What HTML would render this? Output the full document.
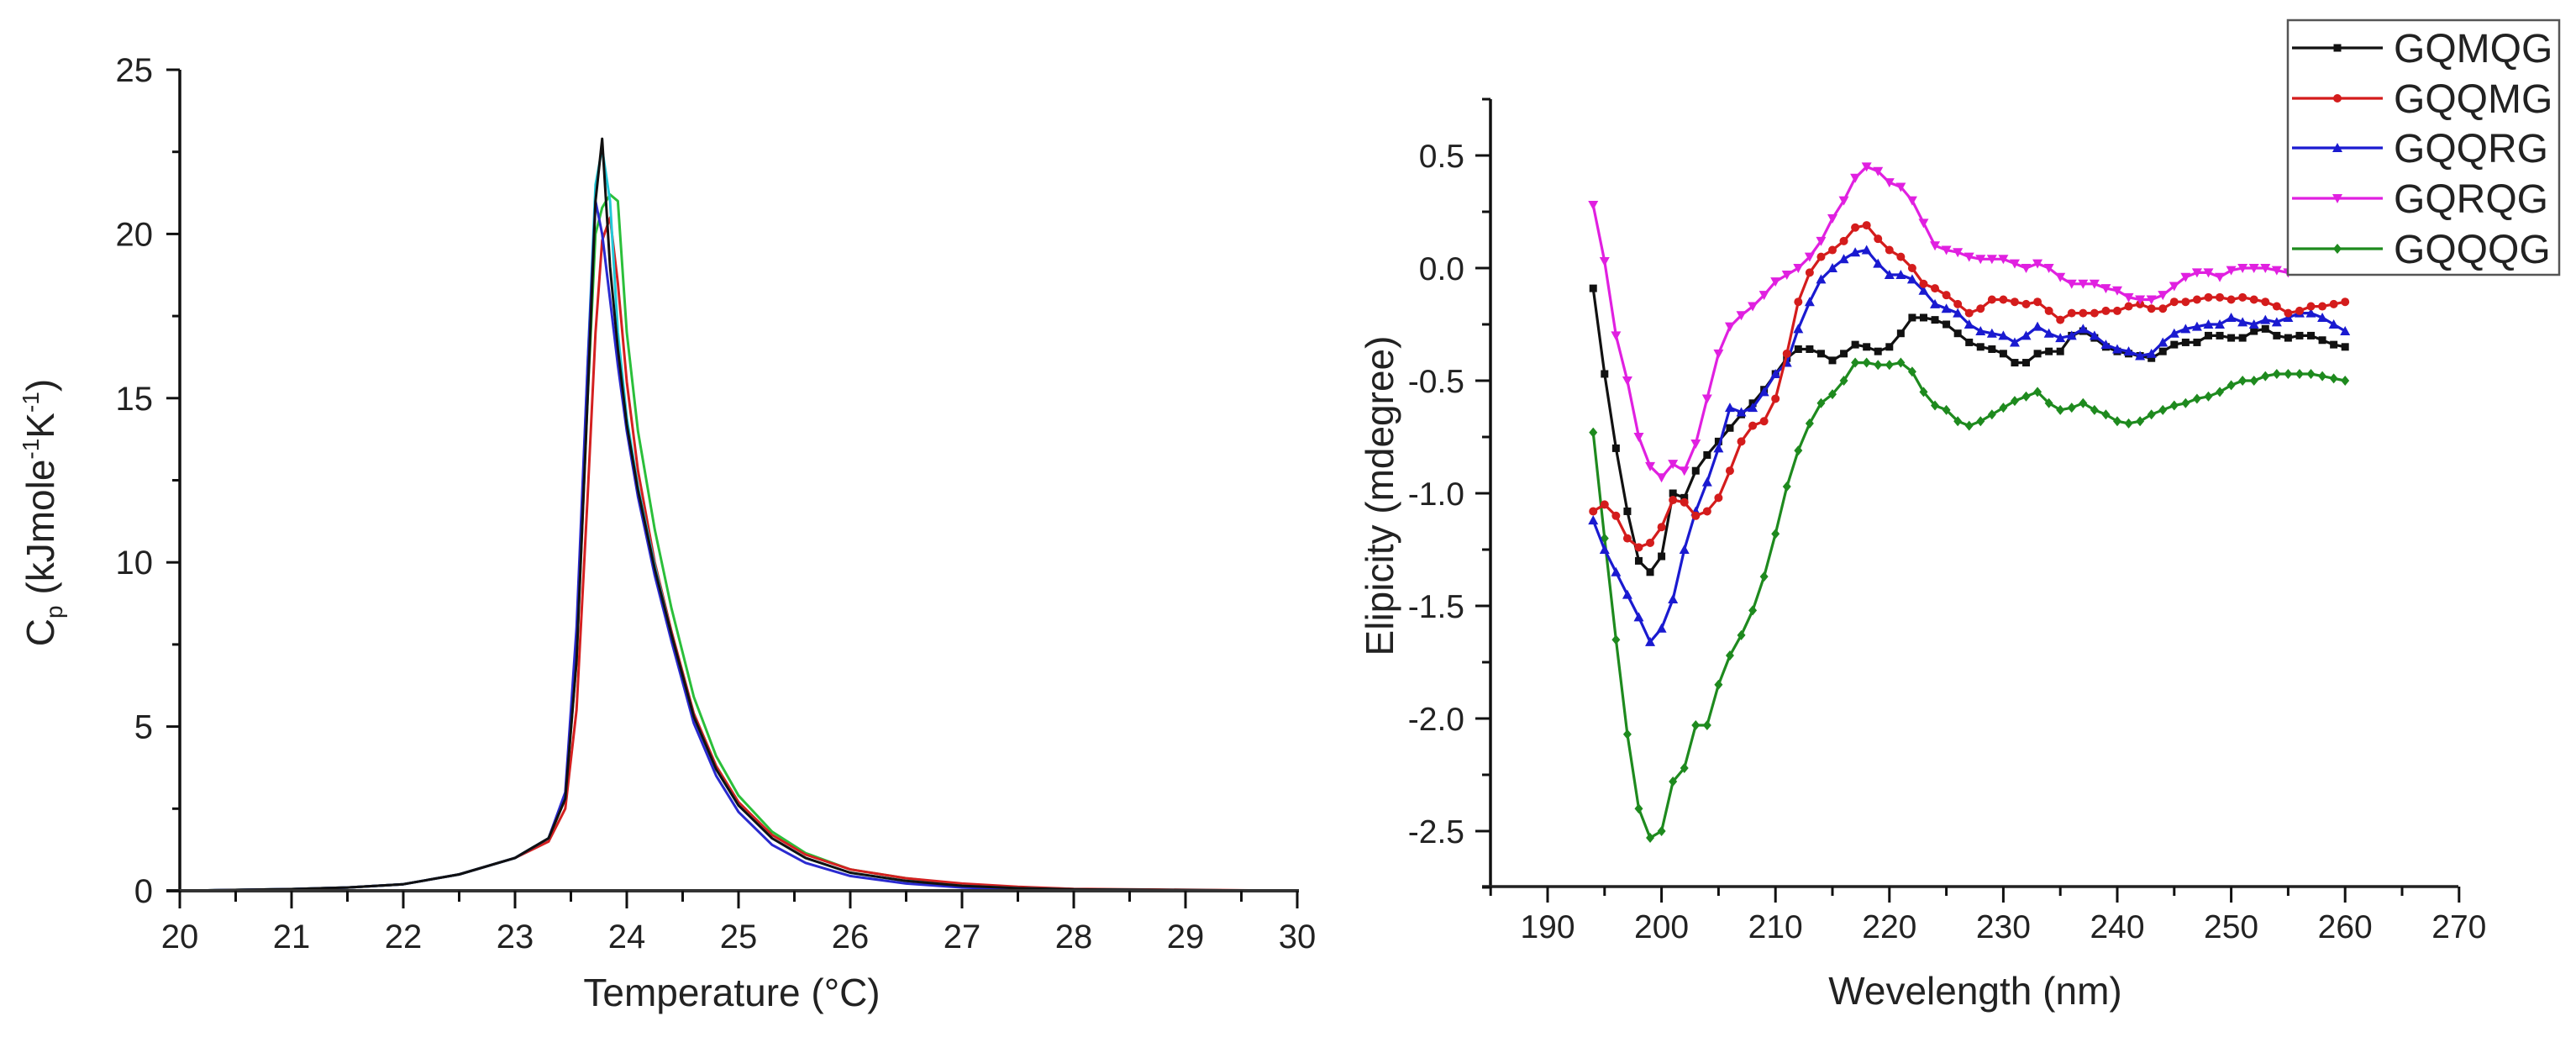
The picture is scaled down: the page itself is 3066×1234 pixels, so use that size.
<!DOCTYPE html>
<html><head><meta charset="utf-8"><style>
html,body{margin:0;padding:0;background:#fff;}
svg{display:block;}
text{font-family:"Liberation Sans",Arial,sans-serif;fill:#222;}
</style></head><body>
<svg id="fig" width="3066" height="1234" viewBox="0 0 3066 1234">
<g id="left"></g>
<g id="right"></g>
</svg>
<script>
// ---------- Left chart data (DSC thermograms) ----------
const temps = [20,21,21.5,22,22.5,23,23.3,23.45,23.55,23.65,23.72,23.78,23.85,23.92,24.0,24.1,24.25,24.4,24.6,24.8,25.0,25.3,25.6,26.0,26.5,27.0,27.5,28,29,30];
const cpBlack = [0,0.05,0.1,0.2,0.5,1.0,1.6,2.8,7,15,21,22.9,19,16.5,14.2,12.2,9.8,7.8,5.3,3.7,2.6,1.6,1.0,0.55,0.3,0.15,0.08,0.04,0.02,0];
const cpRed   = [0,0.05,0.1,0.2,0.5,1.0,1.5,2.5,5.5,12,17,19.8,20.5,18.5,15.5,12.8,10.0,7.9,5.4,3.8,2.7,1.7,1.1,0.65,0.38,0.22,0.12,0.06,0.03,0];
const cpBlue  = [0,0.05,0.1,0.2,0.5,1.0,1.6,3.0,8,16,21,20,18,16,14,12,9.6,7.6,5.1,3.5,2.4,1.4,0.85,0.45,0.22,0.1,0.05,0.03,0.01,0];
const cpGreen = [0,0.05,0.1,0.2,0.5,1.0,1.6,2.8,7,15,20,20.8,21.2,21,17,14,11,8.6,5.9,4.1,2.9,1.8,1.15,0.65,0.38,0.2,0.1,0.05,0.02,0];
const cpCyan  = [0,0.05,0.1,0.2,0.5,1.0,1.6,2.9,7.5,16,21.5,22.6,21,17,14.4,12.3,9.9,7.8,5.3,3.7,2.6,1.6,1.0,0.55,0.3,0.15,0.08,0.04,0.02,0];
const leftXTicks = ['20','21','22','23','24','25','26','27','28','29','30'];
const leftYTicks = ['0','5','10','15','20','25'];

// ---------- Right chart data (CD spectra) ----------
const wl = [194,195,196,197,198,199,200,201,202,203,204,205,206,207,208,209,210,211,212,213,214,215,216,217,218,219,220,221,222,223,224,225,226,227,228,229,230,231,232,233,234,235,236,237,238,239,240,241,242,243,244,245,246,247,248,249,250,251,252,253,254,255,256,257,258,259,260];
const sGQMQG = [-0.09,-0.47,-0.8,-1.08,-1.3,-1.35,-1.28,-1.0,-1.02,-0.9,-0.83,-0.77,-0.71,-0.65,-0.6,-0.54,-0.47,-0.4,-0.36,-0.36,-0.38,-0.41,-0.38,-0.34,-0.35,-0.37,-0.35,-0.29,-0.22,-0.22,-0.23,-0.25,-0.29,-0.33,-0.35,-0.36,-0.38,-0.42,-0.42,-0.38,-0.37,-0.37,-0.3,-0.28,-0.31,-0.35,-0.37,-0.38,-0.39,-0.4,-0.37,-0.34,-0.33,-0.33,-0.3,-0.3,-0.31,-0.31,-0.28,-0.27,-0.3,-0.31,-0.3,-0.3,-0.32,-0.34,-0.35];
const sGQQMG = [-1.08,-1.05,-1.1,-1.2,-1.24,-1.22,-1.15,-1.03,-1.04,-1.1,-1.08,-1.02,-0.9,-0.77,-0.7,-0.68,-0.58,-0.38,-0.15,-0.02,0.05,0.08,0.12,0.18,0.19,0.13,0.08,0.05,0.0,-0.07,-0.09,-0.12,-0.16,-0.2,-0.18,-0.14,-0.14,-0.15,-0.16,-0.15,-0.19,-0.23,-0.2,-0.2,-0.2,-0.19,-0.19,-0.17,-0.16,-0.18,-0.18,-0.15,-0.15,-0.14,-0.13,-0.13,-0.14,-0.13,-0.14,-0.15,-0.17,-0.2,-0.19,-0.17,-0.17,-0.16,-0.15];
const sGQQRG = [-1.12,-1.25,-1.35,-1.45,-1.55,-1.66,-1.6,-1.47,-1.25,-1.08,-0.95,-0.8,-0.62,-0.64,-0.62,-0.55,-0.47,-0.42,-0.27,-0.15,-0.05,0.0,0.04,0.07,0.08,0.02,-0.03,-0.03,-0.05,-0.1,-0.16,-0.18,-0.2,-0.25,-0.28,-0.29,-0.3,-0.33,-0.3,-0.26,-0.29,-0.31,-0.3,-0.27,-0.3,-0.34,-0.36,-0.37,-0.39,-0.38,-0.33,-0.29,-0.27,-0.26,-0.25,-0.25,-0.22,-0.24,-0.25,-0.23,-0.24,-0.22,-0.2,-0.2,-0.22,-0.25,-0.28];
const sGQRQG = [0.28,0.03,-0.3,-0.5,-0.75,-0.88,-0.93,-0.87,-0.9,-0.78,-0.58,-0.38,-0.26,-0.21,-0.17,-0.12,-0.06,-0.03,0.0,0.05,0.12,0.22,0.3,0.4,0.45,0.43,0.38,0.36,0.3,0.2,0.1,0.08,0.07,0.05,0.04,0.04,0.04,0.02,0.0,0.02,0.0,-0.04,-0.07,-0.07,-0.07,-0.09,-0.1,-0.13,-0.14,-0.14,-0.12,-0.08,-0.04,-0.02,-0.02,-0.04,-0.01,0.0,0.0,0.0,-0.01,-0.02];
const sGQQQG = [-0.73,-1.2,-1.65,-2.07,-2.4,-2.53,-2.5,-2.28,-2.22,-2.03,-2.03,-1.85,-1.72,-1.63,-1.52,-1.37,-1.18,-0.97,-0.81,-0.69,-0.6,-0.56,-0.5,-0.42,-0.42,-0.43,-0.43,-0.42,-0.46,-0.55,-0.61,-0.63,-0.68,-0.7,-0.68,-0.65,-0.62,-0.59,-0.57,-0.55,-0.6,-0.63,-0.62,-0.6,-0.63,-0.65,-0.68,-0.69,-0.68,-0.65,-0.63,-0.61,-0.6,-0.58,-0.57,-0.55,-0.52,-0.5,-0.5,-0.48,-0.47,-0.47,-0.47,-0.47,-0.48,-0.49,-0.5];
const seriesNames = ['GQMQG','GQQMG','GQQRG','GQRQG','GQQQG'];
const rightXTicks = ['190','200','210','220','230','240','250','260','270'];
const rightYTicks = ['-2.5','-2.0','-1.5','-1.0','-0.5','0.0','0.5'];

const NS='http://www.w3.org/2000/svg';
function mk(tag, attrs, parent){const e=document.createElementNS(NS,tag);for(const k in attrs)e.setAttribute(k,attrs[k]);parent.appendChild(e);return e;}

// ===== LEFT =====
const L=document.getElementById('left');
const lx=v=>214+(v-20)*133;
const ly=v=>1060-v*39.08;
const lSeries=[[cpGreen,'#2bbf3a'],[cpRed,'#d42020'],[cpCyan,'#22c8d8'],[cpBlue,'#2a2ad0'],[cpBlack,'#111']];
lSeries.forEach((s,i)=>{
  const d=temps.map((t,j)=>(j?'L':'M')+lx(t).toFixed(1)+' '+ly(s[0][j]).toFixed(1)).join(' ');
  const p=mk('path',{d:d,fill:'none',stroke:s[1],'stroke-width':3,'stroke-linejoin':'round'},L);
  
  
});
let a=mk('line',{x1:214,y1:83,x2:214,y2:1062,stroke:'#111','stroke-width':3.5},L);

a=mk('line',{x1:198,y1:1060,x2:1546,y2:1060,stroke:'#333','stroke-width':4},L);

for(let i=0;i<=20;i++){const v=20+i*0.5;const maj=i%2===0;
  mk('line',{x1:lx(v),y1:1060,x2:lx(v),y2:maj?1081:1073,stroke:'#111','stroke-width':3},L);}
leftXTicks.forEach(t=>{const e=mk('text',{x:lx(+t),y:1128,'font-size':40,'text-anchor':'middle'},L);e.textContent=t;
  });
for(let i=0;i<=10;i++){const v=i*2.5;const maj=i%2===0;
  mk('line',{x1:maj?198:205,y1:ly(v),x2:214,y2:ly(v),stroke:'#111','stroke-width':3},L);}
leftYTicks.forEach(t=>{const e=mk('text',{x:182,y:ly(+t)+14,'font-size':40,'text-anchor':'end'},L);e.textContent=t;
  });
let tt=mk('text',{x:871,y:1197,'font-size':46,'text-anchor':'middle'},L);tt.textContent='Temperature (°C)';

tt=mk('text',{x:0,y:0,'font-size':46,'text-anchor':'middle',transform:'translate(64,610) rotate(-90)'},L);
tt.innerHTML='C<tspan font-size="28" dy="10">p</tspan><tspan dy="-10"> (kJmole</tspan><tspan font-size="28" dy="-18">-1</tspan><tspan dy="18">K</tspan><tspan font-size="28" dy="-18">-1</tspan><tspan dy="18">)</tspan>';


// ===== RIGHT =====
const R=document.getElementById('right');
const rx=v=>1842+(v-190)*13.56;
const ry=v=>319-v*268;
a=mk('line',{x1:1774,y1:ry(0.75),x2:1774,y2:1057,stroke:'#111','stroke-width':3.5},R);

a=mk('line',{x1:1764,y1:1055,x2:2926,y2:1055,stroke:'#222','stroke-width':3.5},R);

for(let v=185;v<=270;v+=5){const maj=v%10===0;
  mk('line',{x1:rx(v),y1:1055,x2:rx(v),y2:maj?1074:1066,stroke:'#111','stroke-width':3},R);}
rightXTicks.forEach(t=>{const e=mk('text',{x:rx(+t),y:1116,'font-size':39,'text-anchor':'middle'},R);e.textContent=t;
  });
for(let i=0;i<=14;i++){const v=-2.75+i*0.25;const maj=(Math.round(v*100)%50===0);
  mk('line',{x1:maj?1756:1764,y1:ry(v),x2:1774,y2:ry(v),stroke:'#111','stroke-width':3},R);}
rightYTicks.forEach(t=>{const e=mk('text',{x:1743,y:ry(+t)+14,'font-size':39,'text-anchor':'end'},R);e.textContent=t;
  });
tt=mk('text',{x:2351,y:1195,'font-size':46,'text-anchor':'middle'},R);tt.textContent='Wevelength (nm)';

tt=mk('text',{x:0,y:0,'font-size':46,'text-anchor':'middle',transform:'translate(1658,590) rotate(-90)'},R);tt.textContent='Elipicity (mdegree)';


const colors=['#111','#d41c1c','#1a1ad0','#e020e0','#1e8a1e'];
const data=[sGQMQG,sGQQMG,sGQQRG,sGQRQG,sGQQQG];
function marker(kind,x,y,c,parent){
  if(kind===0) return mk('rect',{x:x-4.5,y:y-4.5,width:9,height:9,fill:c},parent);
  if(kind===1) return mk('circle',{cx:x,cy:y,r:5,fill:c},parent);
  if(kind===2) return mk('path',{d:`M${x} ${y-6}L${x+6} ${y+5}L${x-6} ${y+5}Z`,fill:c},parent);
  if(kind===3) return mk('path',{d:`M${x} ${y+6}L${x+6} ${y-5}L${x-6} ${y-5}Z`,fill:c},parent);
  return mk('path',{d:`M${x} ${y-6}L${x+5} ${y}L${x} ${y+6}L${x-5} ${y}Z`,fill:c},parent);
}
[4,0,2,1,3].forEach(k=>{
  const vals=data[k];
  const g=mk('g',{},R);
  
  
  const d=vals.map((v,j)=>(j?'L':'M')+rx(wl[j]).toFixed(1)+' '+ry(v).toFixed(1)).join(' ');
  mk('path',{d:d,fill:'none',stroke:colors[k],'stroke-width':3.2,'stroke-linejoin':'round'},g);
  vals.forEach((v,j)=>{const m=marker(k,rx(wl[j]),ry(v),colors[k],g);
    
    });
});
const lg=mk('g',{},R);


mk('rect',{x:2723,y:24,width:323,height:303,fill:'#fff',stroke:'#555','stroke-width':2.5},lg);
const ly0=[57,117,176,236,296];
seriesNames.forEach((n,k)=>{
  const eg=mk('g',{},lg);
  
  
  mk('line',{x1:2728,y1:ly0[k],x2:2836,y2:ly0[k],stroke:colors[k],'stroke-width':3.2},eg);
  marker(k,2782,ly0[k],colors[k],eg);
  const t=mk('text',{x:2849,y:ly0[k]+17,'font-size':48},eg);t.textContent=n;
});
</script>
</body></html>
